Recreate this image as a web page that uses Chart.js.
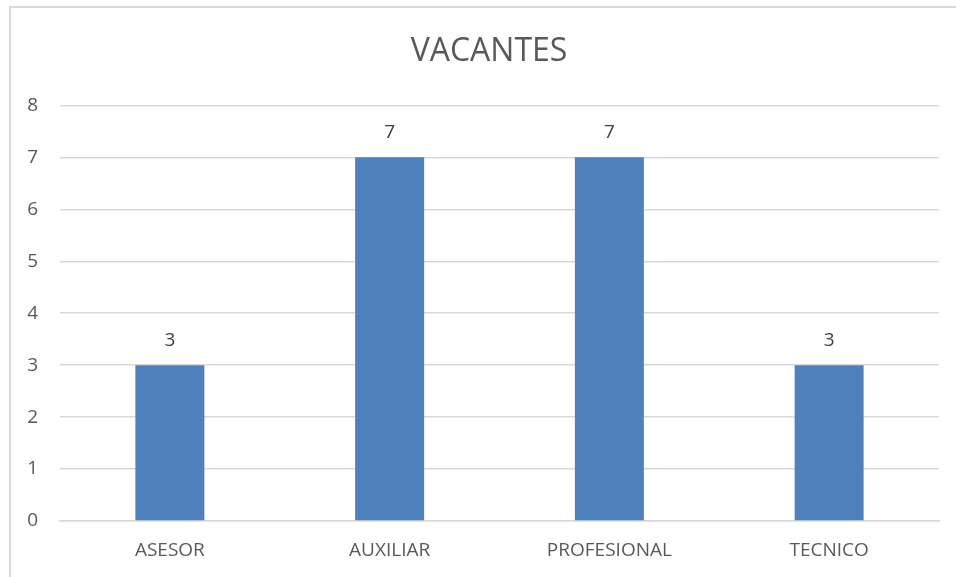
<!DOCTYPE html>
<html><head><meta charset="utf-8">
<script src="https://cdn.jsdelivr.net/npm/chart.js@4/dist/chart.umd.min.js"></script>
<style>
html,body{margin:0;padding:0;background:#fff;overflow:hidden;}
#frame{position:absolute;left:9px;top:6px;width:980px;height:600px;border:2px solid #d9d9d9;box-sizing:border-box;}
#wrap{position:absolute;left:0;top:0;width:956px;height:577px;}
</style></head>
<body>
<div id="frame"></div>
<div id="wrap"><canvas id="c" width="956" height="577"></canvas></div>
<script>
const categories = ["ASESOR", "AUXILIAR", "PROFESIONAL", "TECNICO"];
const vacantes = [3, 7, 7, 3];
const yTicks = [0, 1, 2, 3, 4, 5, 6, 7, 8];
const chartTitle = "VACANTES";

const FONT = "'Open Sans', 'Noto Sans', sans-serif";

const valueLabels = {
  id: 'valueLabels',
  afterDatasetsDraw(chart) {
    const ctx = chart.ctx;
    const meta = chart.getDatasetMeta(0);
    ctx.save();
    ctx.fillStyle = '#404040';
    ctx.font = '19px ' + FONT;
    ctx.textAlign = 'center';
    ctx.textBaseline = 'middle';
    meta.data.forEach((bar, i) => {
      ctx.fillText(String(chart.data.datasets[0].data[i]), bar.x, bar.y - 25);
    });
    ctx.restore();
  }
};

new Chart(document.getElementById('c'), {
  type: 'bar',
  data: {
    labels: categories,
    datasets: [{
      label: chartTitle,
      data: vacantes,
      backgroundColor: '#4f81bd',
      barPercentage: 0.314,
      categoryPercentage: 1.0
    }]
  },
  options: {
    responsive: false,
    animation: false,
    layout: { padding: { left: 22, right: 0, top: 0, bottom: 0 } },
    plugins: {
      legend: { display: false },
      tooltip: { enabled: false },
      title: {
        display: true,
        text: chartTitle,
        color: '#595959',
        font: { family: FONT, size: 32, weight: 'normal' },
        padding: { top: 33, bottom: 34 }
      }
    },
    scales: {
      x: {
        grid: { display: false, drawTicks: false },
        border: { display: true, color: '#d9d9d9', width: 1.5 },
        ticks: { color: '#595959', font: { family: FONT, size: 19 }, padding: 18, maxRotation: 0 },
        afterFit(s) { s.height = 56; }
      },
      y: {
        min: 0, max: 8,
        afterBuildTicks(s) { s.ticks = yTicks.map(v => ({ value: v })); },
        grid: { color: '#d9d9d9', lineWidth: 1.5, drawTicks: false },
        border: { display: false },
        ticks: { color: '#595959', font: { family: FONT, size: 19 }, padding: 22 },
        afterFit(s) { s.width = 38; }
      },
      yRight: {
        position: 'right',
        min: 0, max: 8,
        grid: { display: false, drawTicks: false },
        border: { display: false },
        ticks: { display: false },
        afterFit(s) { s.width = 17; }
      }
    }
  },
  plugins: [valueLabels]
});
</script>
</body></html>
